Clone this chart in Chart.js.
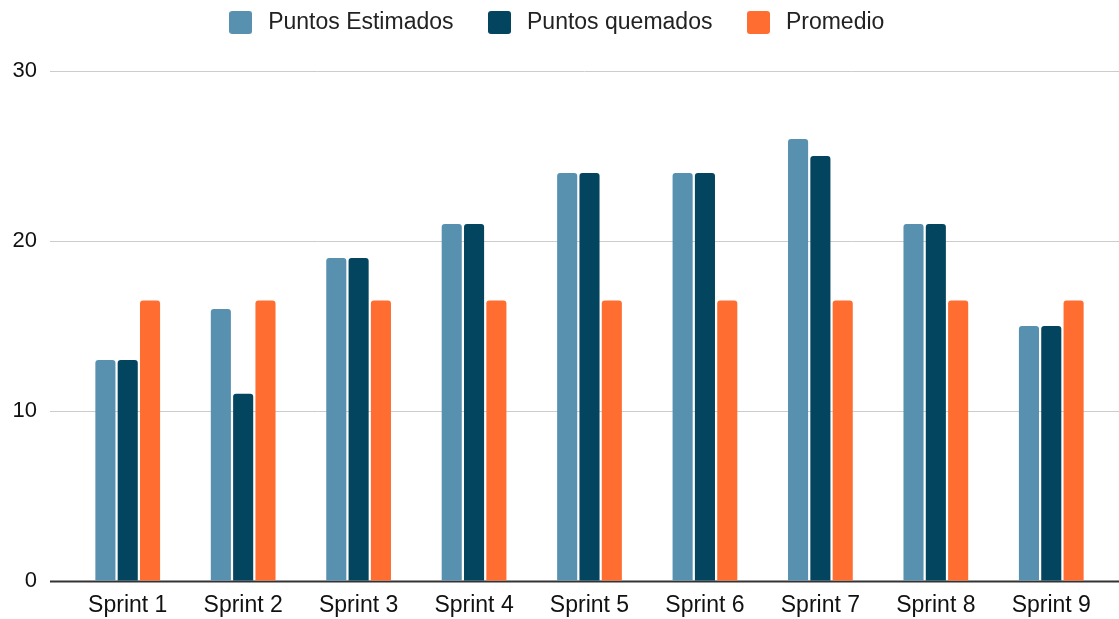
<!DOCTYPE html>
<html>
<head>
<meta charset="utf-8">
<script src="https://cdn.jsdelivr.net/npm/chart.js@4/dist/chart.umd.min.js"></script>
<style>
  html, body { margin: 0; padding: 0; background: #fff; overflow: hidden; }
  canvas { display: block; }
</style>
</head>
<body>
<canvas id="c" width="1119" height="619"></canvas>
<script>
const sprints = ["Sprint 1", "Sprint 2", "Sprint 3", "Sprint 4", "Sprint 5", "Sprint 6", "Sprint 7", "Sprint 8", "Sprint 9"];
const estimados = [13, 16, 19, 21, 24, 24, 26, 21, 15];
const quemados = [13, 11, 19, 21, 24, 24, 25, 21, 15];
const promedio = [16.5, 16.5, 16.5, 16.5, 16.5, 16.5, 16.5, 16.5, 16.5];
const yTicks = [0, 10, 20, 30];
const colores = ["#5891b0", "#03445f", "#ff6d31"];

const FONT = "'Liberation Sans', Arial, sans-serif";

// cuadrito redondeado para la leyenda
function legendBox(color) {
  const cv = document.createElement("canvas");
  cv.width = 23;
  cv.height = 23;
  const g = cv.getContext("2d");
  g.fillStyle = color;
  g.beginPath();
  g.roundRect(0, 0, 23, 23, 3);
  g.fill();
  return cv;
}
const boxes = colores.map(legendBox);

// lineas de la grilla a todo el ancho
const fullGrid = {
  id: "fullGrid",
  beforeDatasetsDraw(chart) {
    const { ctx, scales: { y } } = chart;
    ctx.save();
    yTicks.forEach((v) => {
      const py = Math.round(y.getPixelForValue(v)) + 0.5;
      ctx.beginPath();
      ctx.strokeStyle = v === 0 ? "#333" : "#cccccc";
      ctx.lineWidth = v === 0 ? 2 : 1;
      ctx.moveTo(50, py);
      ctx.lineTo(chart.width, py);
      ctx.stroke();
    });
    ctx.restore();
  },
};

// etiquetas del eje x (sin recorte del area del eje)
const xLabels = {
  id: "xLabels",
  afterDraw(chart) {
    const { ctx, scales: { x, y } } = chart;
    const base = y.getPixelForValue(0);
    ctx.save();
    ctx.fillStyle = "#111";
    ctx.font = `23px ${FONT}`;
    ctx.textAlign = "center";
    ctx.textBaseline = "middle";
    chart.data.labels.forEach((lbl, i) => {
      ctx.fillText(lbl, x.getPixelForValue(i), base + 25);
    });
    ctx.restore();
  },
};

// altura fija de la leyenda
const legendHeight = {
  id: "legendHeight",
  beforeUpdate(chart) {
    const lg = chart.legend;
    if (lg && !lg._fixed) {
      const fit = lg.fit.bind(lg);
      lg.fit = function () {
        fit();
        this.height = 90;
      };
      lg._fixed = true;
    }
  },
};

new Chart(document.getElementById("c"), {
  type: "bar",
  data: {
    labels: sprints,
    datasets: [
      { label: "Puntos Estimados", data: estimados, backgroundColor: colores[0] },
      { label: "Puntos quemados", data: quemados, backgroundColor: colores[1] },
      { label: "Promedio", data: promedio, backgroundColor: colores[2] },
    ],
  },
  options: {
    responsive: false,
    animation: false,
    layout: { autoPadding: false, padding: { top: -19, right: 10, bottom: 0, left: 0 } },
    datasets: {
      bar: {
        categoryPercentage: 0.58,
        barPercentage: 0.9,
        borderRadius: { topLeft: 3, topRight: 3 },
        borderSkipped: "bottom",
      },
    },
    plugins: {
      legend: {
        position: "top",
        labels: {
          color: "#222",
          font: { family: FONT, size: 23 },
          usePointStyle: true,
          pointStyleWidth: 32,
          padding: 30,
          generateLabels: (chart) =>
            Chart.defaults.plugins.legend.labels.generateLabels(chart).map((it, i) => ({
              ...it,
              pointStyle: boxes[i],
            })),
        },
      },
      tooltip: { enabled: false },
    },
    scales: {
      x: {
        grid: { display: false },
        border: { display: false },
        ticks: { display: false },
        afterFit: (s) => { s.height = 32; },
      },
      y: {
        min: 0,
        max: 30,
        afterBuildTicks: (s) => { s.ticks = yTicks.map((v) => ({ value: v })); },
        grid: { display: false },
        border: { display: false },
        ticks: { color: "#111", font: { family: FONT, size: 22 }, padding: 25 },
        afterFit: (s) => { s.width = 70; },
      },
    },
  },
  plugins: [fullGrid, xLabels, legendHeight],
});
</script>
</body>
</html>
